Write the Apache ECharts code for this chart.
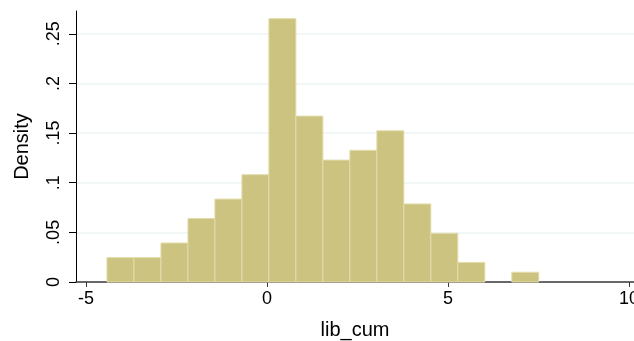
<!DOCTYPE html>
<html>
<head>
<meta charset="utf-8">
<script src="https://cdn.jsdelivr.net/npm/echarts@6/dist/echarts.min.js"></script>
<style>
  html, body { margin: 0; padding: 0; background: #ffffff; }
  #chart { width: 634px; height: 341px; }
</style>
</head>
<body>
<div id="chart"></div>
<script>
// Histogram of lib_cum: 16 equal-width bins starting at binStart
const binStart = -4.42;
const binWidth = 0.7456;
const densities = [0.0246, 0.0246, 0.0393, 0.0639, 0.0835, 0.1081, 0.2653, 0.1671,
                   0.1228, 0.1327, 0.1523, 0.0786, 0.0491, 0.0197, 0, 0.0098];
const xTicks = [-5, 0, 5, 10];
const yTicks = [0, 0.05, 0.1, 0.15, 0.2, 0.25];

const barData = densities.map((d, i) => [binStart + i * binWidth, binStart + (i + 1) * binWidth, d]);

const fmtY = v => {
  if (v === 0) return '0';
  return String(+v.toFixed(2)).replace(/^0\./, '.');
};

const chart = echarts.init(document.getElementById('chart'), null, { renderer: 'canvas' });
chart.setOption({
  animation: false,
  backgroundColor: '#ffffff',
  textStyle: { fontFamily: 'Liberation Sans, Arial, sans-serif' },
  grid: { left: 76, right: 0, top: 11, bottom: 59, outerBoundsMode: 'none', containLabel: false },
  xAxis: {
    type: 'value',
    min: -5.276,
    max: 10.14,
    name: 'lib_cum',
    nameLocation: 'middle',
    nameGap: 38,
    nameTextStyle: { fontSize: 20, color: '#000' },
    axisLine: { show: true, onZero: false, lineStyle: { color: '#3a3a3a', width: 1.5 } },
    axisTick: { show: true, length: 5, lineStyle: { color: '#3a3a3a' }, customValues: xTicks },
    axisLabel: { fontSize: 18, color: '#000', margin: 8, customValues: xTicks },
    splitLine: { show: false }
  },
  yAxis: {
    type: 'value',
    min: 0,
    max: 0.273,
    name: 'Density',
    nameLocation: 'middle',
    nameGap: 44,
    nameTextStyle: { fontSize: 20, color: '#000' },
    axisLine: { show: true, onZero: false, lineStyle: { color: '#000', width: 1 } },
    axisTick: { show: true, length: 7, lineStyle: { color: '#000' }, customValues: yTicks },
    axisLabel: { fontSize: 18, color: '#000', rotate: 90, margin: 13, customValues: yTicks, formatter: fmtY },
    splitLine: { show: true, lineStyle: { color: '#edf3f4', width: 1.5 } }
  },
  series: [{
    type: 'custom',
    data: barData,
    encode: { x: [0, 1], y: 2 },
    renderItem: (params, api) => {
      const d = api.value(2);
      if (!(d > 0)) return null;
      const p0 = api.coord([api.value(0), d]);
      const p1 = api.coord([api.value(1), 0]);
      return {
        type: 'rect',
        shape: { x: p0[0], y: p0[1], width: p1[0] - p0[0], height: p1[1] - p0[1] },
        style: { fill: '#cbc37f', stroke: '#e2dcaa', lineWidth: 1 }
      };
    }
  }]
});
</script>
</body>
</html>
